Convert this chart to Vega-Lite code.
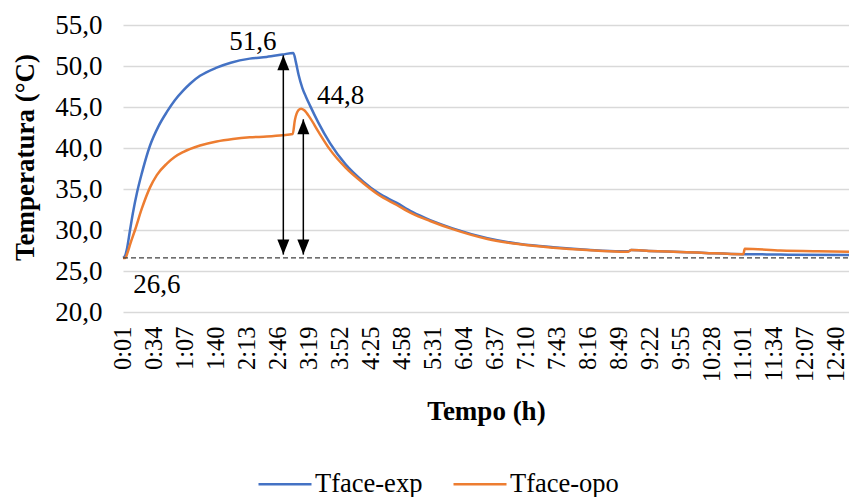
{
  "$schema": "https://vega.github.io/schema/vega-lite/v6.json",
  "width": 726,
  "height": 287,
  "autosize": {"type": "none"},
  "padding": {"left": 123, "top": 25, "right": 0, "bottom": 185},
  "background": "white",
  "config": {
    "view": {"stroke": null},
    "font": "Liberation Serif",
    "axisX": {"labelOverlap": false, "labelFlush": false, "labelBound": false},
    "legend": {
      "orient": "none",
      "legendX": 134,
      "legendY": 431,
      "direction": "horizontal",
      "padding": 0,
      "symbolType": "stroke",
      "symbolSize": 2809,
      "symbolStrokeWidth": 2.5,
      "labelFont": "Liberation Serif",
      "labelFontSize": 26.5,
      "labelColor": "#000000",
      "labelOffset": 2,
      "columnPadding": 25,
      "labelLimit": 300
    }
  },
  "datasets": {
    "temps": [
      {"min": 0, "serie": "Tface-exp", "temp": 26.6},
      {"min": 2, "serie": "Tface-exp", "temp": 26.8},
      {"min": 4, "serie": "Tface-exp", "temp": 27.6},
      {"min": 7.5, "serie": "Tface-exp", "temp": 30.0},
      {"min": 10.6, "serie": "Tface-exp", "temp": 32.1},
      {"min": 15, "serie": "Tface-exp", "temp": 34.6},
      {"min": 20, "serie": "Tface-exp", "temp": 36.9},
      {"min": 28.8, "serie": "Tface-exp", "temp": 40.3},
      {"min": 38, "serie": "Tface-exp", "temp": 42.7},
      {"min": 46.7, "serie": "Tface-exp", "temp": 44.4},
      {"min": 55, "serie": "Tface-exp", "temp": 45.8},
      {"min": 64, "serie": "Tface-exp", "temp": 47.0},
      {"min": 72, "serie": "Tface-exp", "temp": 47.9},
      {"min": 82, "serie": "Tface-exp", "temp": 48.8},
      {"min": 99.7, "serie": "Tface-exp", "temp": 49.8},
      {"min": 114.7, "serie": "Tface-exp", "temp": 50.4},
      {"min": 135, "serie": "Tface-exp", "temp": 50.9},
      {"min": 152.8, "serie": "Tface-exp", "temp": 51.1},
      {"min": 170, "serie": "Tface-exp", "temp": 51.4},
      {"min": 181.4, "serie": "Tface-exp", "temp": 51.6},
      {"min": 184, "serie": "Tface-exp", "temp": 50.5},
      {"min": 187, "serie": "Tface-exp", "temp": 48.9},
      {"min": 191, "serie": "Tface-exp", "temp": 47.3},
      {"min": 195, "serie": "Tface-exp", "temp": 46.2},
      {"min": 199, "serie": "Tface-exp", "temp": 45.2},
      {"min": 208, "serie": "Tface-exp", "temp": 43.1},
      {"min": 220.4, "serie": "Tface-exp", "temp": 40.6},
      {"min": 237, "serie": "Tface-exp", "temp": 38.0},
      {"min": 255.9, "serie": "Tface-exp", "temp": 35.9},
      {"min": 272, "serie": "Tface-exp", "temp": 34.5},
      {"min": 291.5, "serie": "Tface-exp", "temp": 33.3},
      {"min": 308, "serie": "Tface-exp", "temp": 32.2},
      {"min": 327, "serie": "Tface-exp", "temp": 31.2},
      {"min": 351, "serie": "Tface-exp", "temp": 30.2},
      {"min": 388, "serie": "Tface-exp", "temp": 29.0},
      {"min": 423, "serie": "Tface-exp", "temp": 28.3},
      {"min": 458, "serie": "Tface-exp", "temp": 27.9},
      {"min": 494, "serie": "Tface-exp", "temp": 27.6},
      {"min": 529, "serie": "Tface-exp", "temp": 27.4},
      {"min": 538, "serie": "Tface-exp", "temp": 27.4},
      {"min": 541, "serie": "Tface-exp", "temp": 27.55},
      {"min": 560, "serie": "Tface-exp", "temp": 27.45},
      {"min": 600, "serie": "Tface-exp", "temp": 27.3},
      {"min": 620, "serie": "Tface-exp", "temp": 27.2},
      {"min": 660.5, "serie": "Tface-exp", "temp": 27.05},
      {"min": 662, "serie": "Tface-exp", "temp": 27.05},
      {"min": 700, "serie": "Tface-exp", "temp": 27.0},
      {"min": 773, "serie": "Tface-exp", "temp": 26.95},
      {"min": 0, "serie": "Tface-opo", "temp": 26.6},
      {"min": 2.5, "serie": "Tface-opo", "temp": 26.6},
      {"min": 5, "serie": "Tface-opo", "temp": 27.3},
      {"min": 8, "serie": "Tface-opo", "temp": 28.4},
      {"min": 12.8, "serie": "Tface-opo", "temp": 30.0},
      {"min": 20, "serie": "Tface-opo", "temp": 32.6},
      {"min": 28.8, "serie": "Tface-opo", "temp": 35.2},
      {"min": 36, "serie": "Tface-opo", "temp": 36.7},
      {"min": 46.7, "serie": "Tface-opo", "temp": 38.1},
      {"min": 55, "serie": "Tface-opo", "temp": 38.9},
      {"min": 64, "serie": "Tface-opo", "temp": 39.5},
      {"min": 82, "serie": "Tface-opo", "temp": 40.3},
      {"min": 99.7, "serie": "Tface-opo", "temp": 40.8},
      {"min": 117, "serie": "Tface-opo", "temp": 41.1},
      {"min": 135, "serie": "Tface-opo", "temp": 41.3},
      {"min": 153, "serie": "Tface-opo", "temp": 41.4},
      {"min": 170, "serie": "Tface-opo", "temp": 41.55},
      {"min": 180.7, "serie": "Tface-opo", "temp": 41.7},
      {"min": 183, "serie": "Tface-opo", "temp": 43.4},
      {"min": 186.7, "serie": "Tface-opo", "temp": 44.6},
      {"min": 189.6, "serie": "Tface-opo", "temp": 44.8},
      {"min": 193, "serie": "Tface-opo", "temp": 44.6},
      {"min": 199, "serie": "Tface-opo", "temp": 43.7},
      {"min": 208, "serie": "Tface-opo", "temp": 42.0},
      {"min": 220.4, "serie": "Tface-opo", "temp": 39.8},
      {"min": 237, "serie": "Tface-opo", "temp": 37.6},
      {"min": 255.9, "serie": "Tface-opo", "temp": 35.7},
      {"min": 272, "serie": "Tface-opo", "temp": 34.3},
      {"min": 291.5, "serie": "Tface-opo", "temp": 33.05},
      {"min": 308, "serie": "Tface-opo", "temp": 32.0},
      {"min": 327, "serie": "Tface-opo", "temp": 31.1},
      {"min": 351, "serie": "Tface-opo", "temp": 30.1},
      {"min": 388, "serie": "Tface-opo", "temp": 28.9},
      {"min": 423, "serie": "Tface-opo", "temp": 28.25},
      {"min": 458, "serie": "Tface-opo", "temp": 27.85},
      {"min": 494, "serie": "Tface-opo", "temp": 27.55},
      {"min": 529, "serie": "Tface-opo", "temp": 27.35},
      {"min": 538, "serie": "Tface-opo", "temp": 27.35},
      {"min": 541, "serie": "Tface-opo", "temp": 27.55},
      {"min": 560, "serie": "Tface-opo", "temp": 27.45},
      {"min": 600, "serie": "Tface-opo", "temp": 27.3},
      {"min": 620, "serie": "Tface-opo", "temp": 27.2},
      {"min": 660.5, "serie": "Tface-opo", "temp": 27.05},
      {"min": 662, "serie": "Tface-opo", "temp": 27.7},
      {"min": 700, "serie": "Tface-opo", "temp": 27.5},
      {"min": 740, "serie": "Tface-opo", "temp": 27.4},
      {"min": 773, "serie": "Tface-opo", "temp": 27.35}
    ],
    "arrows": [
      {"min": 170.7, "temp": 27.0, "tip": 51.3},
      {"min": 192, "temp": 27.0, "tip": 43.5}
    ],
    "baseline": [
      {"min": 0, "temp": 26.6},
      {"min": 773, "temp": 26.6}
    ]
  },
  "layer": [
    {
      "data": {"name": "temps"},
      "mark": {"type": "line", "strokeWidth": 2.5, "interpolate": "monotone"},
      "encoding": {
        "x": {
          "field": "min",
          "type": "quantitative",
          "scale": {"domain": [0, 773], "nice": false, "zero": false},
          "axis": {
            "title": "Tempo (h)",
            "titleFont": "Liberation Serif",
            "titleFontSize": 27,
            "titleFontWeight": "bold",
            "titleColor": "#000000",
            "titleY": 107,
            "titleBaseline": "alphabetic",
            "values": [1, 34, 67, 100, 133, 166, 199, 232, 265, 298, 331, 364, 397, 430, 463, 496, 529, 562, 595, 628, 661, 694, 727, 760],
            "tickCount": 30,
            "labelExpr": "floor(datum.value / 60) + ':' + (datum.value % 60 < 10 ? '0' : '') + (datum.value % 60)",
            "labelAngle": -90,
            "labelFont": "Liberation Serif",
            "labelFontSize": 24.5,
            "labelColor": "#000000",
            "labelPadding": 14,
            "labelOverlap": false,
            "labelFlush": false,
            "labelBound": false,
            "ticks": false,
            "domain": false,
            "grid": false
          }
        },
        "y": {
          "field": "temp",
          "type": "quantitative",
          "scale": {"domain": [20, 55], "nice": false, "zero": false},
          "axis": {
            "title": "Temperatura (°C)",
            "titleFont": "Liberation Serif",
            "titleFontSize": 27,
            "titleFontWeight": "bold",
            "titleColor": "#000000",
            "titleAngle": -90,
            "titleX": -98,
            "titleY": 132,
            "titleBaseline": "middle",
            "titleAlign": "center",
            "values": [20, 25, 30, 35, 40, 45, 50, 55],
            "labelExpr": "replace(format(datum.value, '.1f'), '.', ',')",
            "labelFont": "Liberation Serif",
            "labelFontSize": 27,
            "labelColor": "#000000",
            "labelPadding": 21,
            "ticks": false,
            "domain": false,
            "grid": true,
            "gridColor": "#d9d9d9",
            "gridWidth": 1.5
          }
        },
        "color": {
          "field": "serie",
          "type": "nominal",
          "scale": {"domain": ["Tface-exp", "Tface-opo"], "range": ["#4472C4", "#ED7D31"]},
          "legend": {"title": null}
        }
      }
    },
    {
      "data": {"name": "baseline"},
      "mark": {"type": "line", "color": "#404040", "strokeWidth": 1.2, "strokeDash": [5, 3]},
      "encoding": {
        "x": {"field": "min", "type": "quantitative"},
        "y": {"field": "temp", "type": "quantitative"}
      }
    },
    {
      "data": {"name": "arrows"},
      "mark": {"type": "rule", "color": "#000000", "strokeWidth": 1.5},
      "encoding": {
        "x": {"field": "min", "type": "quantitative"},
        "y": {"field": "temp", "type": "quantitative"},
        "y2": {"field": "tip"}
      }
    },
    {
      "data": {"name": "arrows"},
      "mark": {"type": "point", "shape": "M0,0L-1,2.5L1,2.5Z", "filled": true, "color": "#000000", "opacity": 1, "size": 144},
      "encoding": {
        "x": {"field": "min", "type": "quantitative"},
        "y": {"field": "tip", "type": "quantitative"}
      }
    },
    {
      "data": {"name": "arrows"},
      "mark": {"type": "point", "shape": "M0,0L-1,-2.5L1,-2.5Z", "filled": true, "color": "#000000", "opacity": 1, "size": 144},
      "encoding": {
        "x": {"field": "min", "type": "quantitative"},
        "y": {"field": "temp", "type": "quantitative"}
      }
    },
    {
      "data": {"values": [{"min": 138.4, "temp": 51.6, "label": "51,6"}]},
      "mark": {"type": "text", "font": "Liberation Serif", "fontSize": 27, "color": "#000000", "align": "center", "baseline": "alphabetic", "dy": -3},
      "encoding": {
        "x": {"field": "min", "type": "quantitative"},
        "y": {"field": "temp", "type": "quantitative"},
        "text": {"field": "label"}
      }
    },
    {
      "data": {"values": [{"min": 231.6, "temp": 44.8, "label": "44,8"}]},
      "mark": {"type": "text", "font": "Liberation Serif", "fontSize": 27, "color": "#000000", "align": "center", "baseline": "alphabetic", "dy": -5},
      "encoding": {
        "x": {"field": "min", "type": "quantitative"},
        "y": {"field": "temp", "type": "quantitative"},
        "text": {"field": "label"}
      }
    },
    {
      "data": {"values": [{"min": 36, "temp": 26.6, "label": "26,6"}]},
      "mark": {"type": "text", "font": "Liberation Serif", "fontSize": 27, "color": "#000000", "align": "center", "baseline": "alphabetic", "dy": 35},
      "encoding": {
        "x": {"field": "min", "type": "quantitative"},
        "y": {"field": "temp", "type": "quantitative"},
        "text": {"field": "label"}
      }
    }
  ]
}
